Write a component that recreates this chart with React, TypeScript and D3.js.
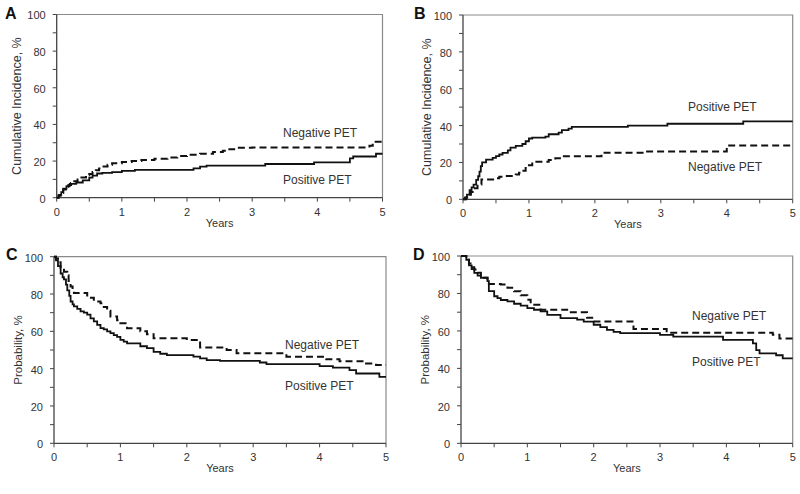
import React from "react";
import * as d3 from "d3";

type Pt = [number, number];

// Panel A – cumulative incidence
const aNegative: Pt[] = [[0,0],[0.03,1],[0.06,2.5],[0.1,4.5],[0.14,6],[0.18,7],[0.22,8],[0.27,9],[0.32,10],[0.38,11],[0.45,12.3],[0.5,13],[0.55,14],[0.6,15],[0.65,16],[0.7,17],[0.78,18],[0.85,18.8],[1.0,19.5],[1.15,20],[1.3,20.6],[1.5,21.3],[1.7,22],[1.85,22.7],[2.0,23.5],[2.2,24],[2.4,25],[2.55,25.6],[2.65,26.5],[2.75,27.2],[3.0,27.4],[4.8,28.3],[4.85,30.6],[5,30.6]];
const aPositive: Pt[] = [[0,0],[0.03,1.5],[0.07,3],[0.1,5],[0.15,6.3],[0.2,7.5],[0.3,8.3],[0.4,9.5],[0.5,11],[0.55,12],[0.62,13.2],[0.7,13.5],[0.85,14],[1.0,14.6],[1.2,15.2],[2.1,16],[2.2,17],[2.3,17.5],[3.2,18.4],[3.95,19.3],[4.5,21.5],[4.55,22.5],[4.9,24],[5,24]];

// Panel B – cumulative incidence
const bPositive: Pt[] = [[0,0],[0.03,1],[0.06,2.5],[0.1,5],[0.13,6.5],[0.16,8],[0.2,10.5],[0.23,12.5],[0.25,15],[0.27,18],[0.29,20],[0.35,21.5],[0.45,22.5],[0.5,23.4],[0.55,24.3],[0.6,25.2],[0.68,26.5],[0.72,28],[0.8,29],[0.9,30],[0.95,31.5],[1.0,33],[1.05,33.5],[1.25,34],[1.3,35.3],[1.45,36.2],[1.5,37.5],[1.6,38.3],[1.65,39.3],[2.5,40],[3.1,41],[4.25,42.3],[5,42.3]];
const bNegative: Pt[] = [[0,0],[0.05,1],[0.08,2.5],[0.12,4],[0.18,6],[0.22,8],[0.28,10.8],[0.5,11.4],[0.55,12.2],[0.6,12.6],[0.8,13.5],[0.85,14.4],[0.9,15.5],[0.95,17],[1.0,18.5],[1.05,20.4],[1.3,21.3],[1.4,22.3],[1.5,23.4],[2.1,25.2],[2.75,26],[4.0,29.2],[5,29.2]];

// Panel C – probability
const cNegative: Pt[] = [[0,100],[0.03,99],[0.06,97],[0.1,94],[0.15,92],[0.2,90],[0.22,87],[0.25,84],[0.28,82],[0.3,80.5],[0.5,78],[0.6,76],[0.7,75],[0.75,73],[0.8,71],[0.85,68],[0.95,66],[1.0,64.4],[1.1,61.7],[1.3,60],[1.4,58.5],[1.5,56.3],[2.0,55.4],[2.2,51.4],[2.6,50],[2.75,48.2],[3.5,46.4],[4.1,45],[4.3,44],[4.7,42.8],[4.85,42],[5,42]];
const cPositive: Pt[] = [[0,100],[0.03,98],[0.06,95],[0.1,91],[0.13,89],[0.15,87.8],[0.18,85],[0.2,82],[0.23,79],[0.25,76],[0.28,74.5],[0.3,73.4],[0.35,72],[0.4,70.7],[0.45,70],[0.5,69],[0.55,67],[0.6,65.3],[0.65,63.5],[0.7,61.7],[0.75,61],[0.8,60],[0.85,59],[0.9,58],[0.95,57],[1.0,55.4],[1.05,54.5],[1.1,53.6],[1.3,52],[1.4,51],[1.5,49],[1.6,48],[1.7,47.3],[2.1,46.4],[2.2,45.5],[2.3,44.6],[2.5,44.2],[3.1,43.3],[3.2,42.4],[4.0,41.4],[4.2,40.6],[4.45,39.2],[4.55,37.4],[4.9,35.6],[5,35.6]];

// Panel D – probability
const dNegative: Pt[] = [[0,100],[0.05,100],[0.08,98],[0.12,96],[0.16,94],[0.2,92.8],[0.25,91],[0.3,89.5],[0.35,88.4],[0.4,85],[0.6,84.8],[0.7,83],[0.8,81.2],[0.9,79],[1.0,76.7],[1.05,74],[1.2,71.3],[1.6,70],[1.9,67],[2.0,65],[2.6,61],[3.1,59],[4.7,58],[4.8,56],[5,56]];
const dPositive: Pt[] = [[0,100],[0.05,100],[0.08,98],[0.12,95],[0.16,93],[0.2,91],[0.25,89.5],[0.3,88.4],[0.4,86.6],[0.42,81.2],[0.5,78.5],[0.55,77.5],[0.6,76.5],[0.7,75.8],[0.8,74.5],[0.9,73.5],[1.0,72.2],[1.1,71.3],[1.2,70.4],[1.3,68.6],[1.5,66.8],[1.75,66],[1.85,65],[2.0,63.3],[2.1,62],[2.2,60.6],[2.3,59.5],[2.4,58.8],[3.0,57.9],[3.2,57],[3.95,55.2],[4.4,53.4],[4.45,49.8],[4.5,48],[4.75,47],[4.85,45.3],[5,45.3]];

const yTickValues = [0, 10, 20, 30, 40, 50, 60, 70, 80, 90, 100];
const xTickValues = [0, 0.5, 1, 1.5, 2, 2.5, 3, 3.5, 4, 4.5, 5];
const panelLetters = ["A", "B", "C", "D"];
const seriesNames = ["Negative PET", "Positive PET"];
const yTitles = ["Cumulative Incidence, %", "Cumulative Incidence, %", "Probability, %", "Probability, %"];
const xTitle = "Years";

const FONT = "Arial, 'Liberation Sans', sans-serif";
const TEXT = "#333";

interface PanelProps {
  letter: string;
  box: { l: number; r: number; t: number; b: number };
  neg: Pt[];
  pos: Pt[];
  yTitle: string;
  yTitleSize: number;
  negLabel: [number, number];
  posLabel: [number, number];
  letterPos: [number, number];
  yTitleX: number;
}

function Panel({ letter, box, neg, pos, yTitle, yTitleSize, negLabel, posLabel, letterPos, yTitleX }: PanelProps) {
  const x = d3.scaleLinear().domain([0, 5]).range([box.l, box.r]);
  const y = d3.scaleLinear().domain([0, 100]).range([box.b, box.t]);
  const line = d3.line<Pt>().x(d => x(d[0])).y(d => y(d[1])).curve(d3.curveStepAfter);
  return (
    <g>
      <text x={letterPos[0]} y={letterPos[1]} fontSize={16} fontWeight="bold" fontFamily={FONT} fill="#111">{letter}</text>
      <path d={`M${box.l},${box.t}H${box.r}V${box.b}`} fill="none" stroke="#8a8a8a" strokeWidth={1.2} />
      <line x1={box.l} x2={box.l} y1={box.t} y2={box.b} stroke="#444" strokeWidth={1.3} />
      <line x1={box.l} x2={box.r} y1={box.b} y2={box.b} stroke="#444" strokeWidth={1.3} />
      {yTickValues.map(v => (
        <g key={"y" + v}>
          <line x1={box.l - 4} x2={box.l} y1={y(v)} y2={y(v)} stroke="#444" strokeWidth={1} />
          {v % 20 === 0 && (
            <text x={box.l - 11} y={y(v)} dy="0.45em" textAnchor="end" fontSize={11} fontFamily={FONT} fill={TEXT}>{v}</text>
          )}
        </g>
      ))}
      {xTickValues.map(v => (
        <g key={"x" + v}>
          <line x1={x(v)} x2={x(v)} y1={box.b} y2={box.b + 4} stroke="#444" strokeWidth={1} />
          {Number.isInteger(v) && (
            <text x={x(v)} y={box.b + 18} textAnchor="middle" fontSize={11} fontFamily={FONT} fill={TEXT}>{v}</text>
          )}
        </g>
      ))}
      <text x={(box.l + box.r) / 2} y={box.b + 29} textAnchor="middle" fontSize={11} fontFamily={FONT} fill={TEXT}>{xTitle}</text>
      <text transform={`translate(${yTitleX},${(box.t + box.b) / 2}) rotate(-90)`} textAnchor="middle" dy="0.35em" fontSize={yTitleSize} fontFamily={FONT} fill={TEXT}>{yTitle}</text>
      <path d={line(neg) ?? ""} fill="none" stroke="#111" strokeWidth={2} strokeDasharray="7,4" />
      <path d={line(pos) ?? ""} fill="none" stroke="#111" strokeWidth={1.8} />
      <text x={negLabel[0]} y={negLabel[1]} dy="0.35em" fontSize={12} fontFamily={FONT} fill={TEXT}>{seriesNames[0]}</text>
      <text x={posLabel[0]} y={posLabel[1]} dy="0.35em" fontSize={12} fontFamily={FONT} fill={TEXT}>{seriesNames[1]}</text>
    </g>
  );
}

export default function App() {
  return (
    <svg width={800} height={494} style={{ position: "absolute", left: 0, top: 0, background: "#fff" }}>
      <Panel letter={panelLetters[0]} box={{ l: 56.7, r: 382.5, t: 14.5, b: 197.7 }} neg={aNegative} pos={aPositive}
        yTitle={yTitles[0]} yTitleSize={12.5} negLabel={[283, 133]} posLabel={[283, 180]} letterPos={[5, 19]} yTitleX={17} />
      <Panel letter={panelLetters[1]} box={{ l: 463, r: 792.7, t: 15, b: 199.3 }} neg={bNegative} pos={bPositive}
        yTitle={yTitles[1]} yTitleSize={12.5} negLabel={[688, 167]} posLabel={[688, 107]} letterPos={[414, 19]} yTitleX={427} />
      <Panel letter={panelLetters[2]} box={{ l: 54, r: 386, t: 256.7, b: 443.3 }} neg={cNegative} pos={cPositive}
        yTitle={yTitles[2]} yTitleSize={11.5} negLabel={[285, 345]} posLabel={[285, 386]} letterPos={[6, 260]} yTitleX={18} />
      <Panel letter={panelLetters[3]} box={{ l: 461, r: 792.7, t: 256, b: 443.3 }} neg={dNegative} pos={dPositive}
        yTitle={yTitles[3]} yTitleSize={11.5} negLabel={[692, 316]} posLabel={[692, 362]} letterPos={[413, 260]} yTitleX={425} />
    </svg>
  );
}
